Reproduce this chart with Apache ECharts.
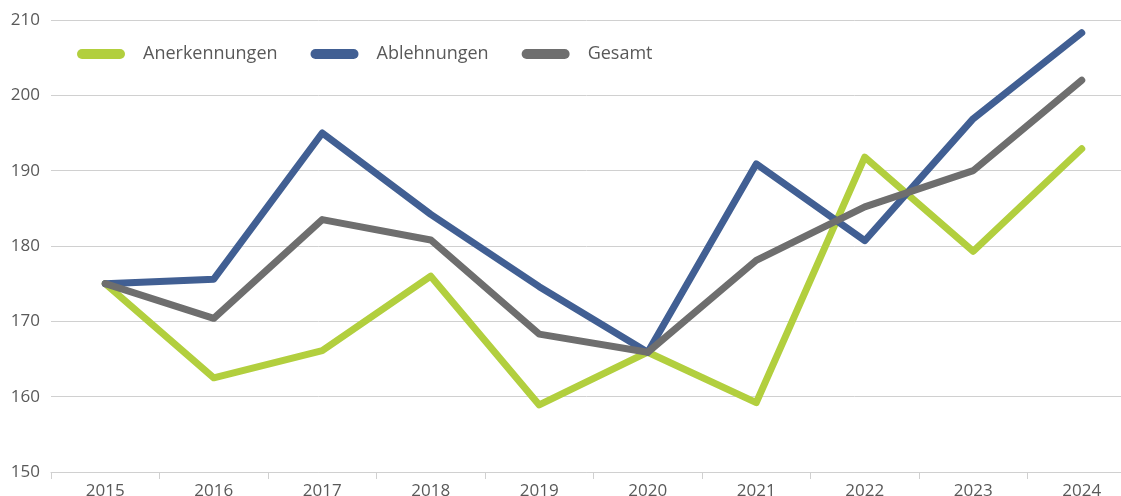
<!DOCTYPE html>
<html>
  <head>
    <meta charset="utf-8" />
    <title>Anerkennungen / Ablehnungen</title>
    <script src="https://cdn.jsdelivr.net/npm/echarts@6/dist/echarts.min.js"></script>
    <style>
      body {
        margin: 0;
        padding: 0;
        background: #fff;
      }
      #main {
        width: 1121px;
        height: 496px;
      }
    </style>
  </head>
  <body>
    <div id="main"></div>
    <script type="text/javascript">
      var years = ["2015", "2016", "2017", "2018", "2019", "2020", "2021", "2022", "2023", "2024"];
      var anerkennungen = [175.0, 162.5, 166.1, 176.0, 158.9, 165.9, 159.2, 191.8, 179.3, 192.9];
      var ablehnungen = [175.0, 175.6, 195.0, 184.2, 174.6, 165.9, 190.9, 180.7, 196.9, 208.3];
      var gesamt = [175.0, 170.4, 183.5, 180.8, 168.3, 165.9, 178.1, 185.2, 190.0, 202.0];

      var myChart = echarts.init(document.getElementById("main"));

      var textColor = "#595959";
      var font = "'Open Sans', sans-serif";
      // capsule-shaped legend marker
      var pill = "path://M5,0 H43 A5,5 0 0 1 43,10 H5 A5,5 0 0 1 5,0 Z";

      function lineSeries(name, data, color) {
        return {
          name: name,
          type: "line",
          data: data,
          symbol: "none",
          lineStyle: { width: 7, color: color, cap: "round", join: "round" },
          itemStyle: { color: color },
          emphasis: { disabled: true },
        };
      }

      var option = {
        animation: false,
        // the plot runs past the right edge of the picture
        grid: { left: 51, top: 20, width: 1085, height: 452, outerBoundsMode: "none" },
        legend: {
          left: 77,
          top: 45,
          padding: 0,
          itemWidth: 48,
          itemHeight: 10,
          itemGap: 33,
          icon: pill,
          textStyle: {
            color: textColor,
            fontSize: 18,
            fontFamily: font,
            padding: [0, 0, 0, 13],
          },
          data: ["Anerkennungen", "Ablehnungen", "Gesamt"],
        },
        xAxis: {
          type: "category",
          data: years,
          boundaryGap: true,
          axisLine: { lineStyle: { color: "#d0d0d0", width: 1 } },
          axisTick: { show: true, length: 7, lineStyle: { color: "#d0d0d0" } },
          axisLabel: {
            color: textColor,
            fontSize: 17,
            fontFamily: font,
            margin: 11,
          },
        },
        yAxis: {
          type: "value",
          min: 150,
          max: 210,
          interval: 10,
          axisLine: { show: false },
          axisTick: { show: false },
          splitLine: { lineStyle: { color: "#d0d0d0", width: 1 } },
          axisLabel: {
            color: textColor,
            fontSize: 17,
            fontFamily: font,
            margin: 11,
          },
        },
        series: [
          lineSeries("Anerkennungen", anerkennungen, "#b2cf3e"),
          lineSeries("Ablehnungen", ablehnungen, "#415f93"),
          lineSeries("Gesamt", gesamt, "#6e6e6e"),
        ],
      };

      myChart.setOption(option);
    </script>
  </body>
</html>
